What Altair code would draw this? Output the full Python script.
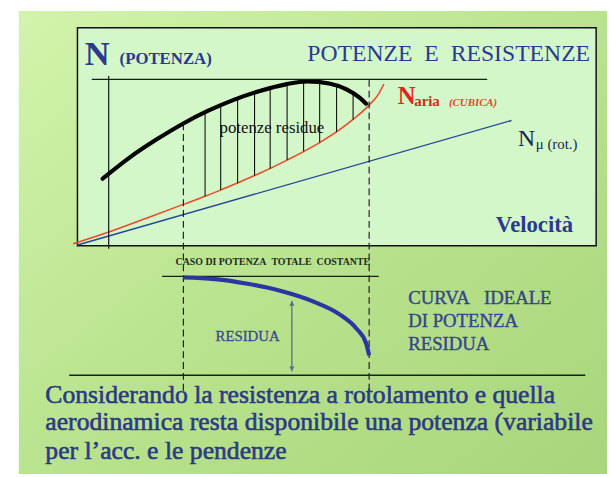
import altair as alt
import pandas as pd

SERIF = "Liberation Serif"
NB = "\u00a0"

# ---------- data (x: velocity units, y: power units) ----------
# available power curve (black)
BLACK_V = [5.8, 12.0, 18.0, 24.4, 30.0, 36.0, 42.0, 48.0, 53.0, 58.0, 62.0, 65.0, 66.5]
BLACK_P = [40.3, 53.0, 63.5, 73.5, 81.0, 87.7, 93.0, 97.0, 98.8, 97.5, 94.0, 89.0, 85.4]
# aerodynamic power (red, cubic)
RED_V = [-1.0, 7.2, 16.5, 24.4, 29.4, 33.1, 36.9, 41.5, 48.3, 55.8, 60.0, 63.5, 67.2, 69.4, 70.6]
RED_P = [1.2, 8.3, 17.2, 24.9, 29.8, 33.6, 37.8, 43.0, 51.5, 62.0, 69.0, 75.9, 84.5, 91.3, 97.2]
# rolling resistance power (blue, linear)
BLUE_V = [0.0, 100.0]
BLUE_P = [0.5, 75.3]
# hatch lines (residual power)
HATCH_V = [29.4, 33.0, 36.9, 40.8, 44.4, 48.3, 52.1, 55.8, 59.7, 63.5]
HATCH_TOP = [80.2, 84.5, 88.5, 92.1, 94.6, 97.1, 98.6, 98.3, 96.0, 91.5]
HATCH_BOT = [29.8, 33.5, 37.8, 42.2, 46.3, 51.5, 56.8, 62.0, 68.5, 75.9]
# dashed verticals
DASH_V = [24.4, 67.2]
DASH_TOP = [73.5, 101.0]
DASH_BOT = [-87.0, -87.0]
# ideal residual power curve (lower panel)
RESID_V = [24.4, 31.7, 39.2, 46.7, 54.4, 60.3, 64.2, 66.5, 67.2]
RESID_P = [-19.0, -20.0, -22.8, -27.0, -33.5, -41.0, -49.5, -58.5, -65.8]
# horizontal reference lines: start, end, level
HLINE_V1 = [3.3, 19.5, -1.9]
HLINE_V2 = [94.4, 69.4, 117.0]
HLINE_P = [100.0, -18.4, -77.7]
HLINE_W = [1.2, 1.2, 1.6]
# solid vertical line (axis N)
VLINE_V = [7.2]
VLINE_P1 = [-1.8]
VLINE_P2 = [102.0]
# double arrow "RESIDUA"
ARROW_V = [49.4]
ARROW_P1 = [-75.3]
ARROW_P2 = [-33.2]
# frame box
BOX_V = [0.0, 119.5]
BOX_P = [0.0, 131.0]
# slide background
BG_V = [-13.5, 125.0]
BG_P = [-140.0, 146.0]

X_DOMAIN = [-16, 122]
Y_DOMAIN = [-137, 141]

# texts: (v, p, text)
TITLE = [(118.1, 110.8, "POTENZE" + NB * 2 + "E" + NB * 2 + "RESISTENZE")]
N_BIG = [(1.7, 108.5, "N")]
N_SUB = [(9.7, 109.0, "(POTENZA)")]
NARIA_N = [(73.8, 85.4, "N")]
NARIA_SUB = [(77.6, 83.8, "aria")]
NARIA_CUB = [(85.6, 83.8, "(CUBICA)")]
NMU_N = [(101.5, 59.9, "N")]
NMU_SUB = [(105.6, 58.1, "μ (rot.)")]
VELOC = [(114.2, 8.3, "Velocità")]
RESIDUE = [(44.8, 67.6, "potenze residue")]
CASO = [(22.6, -11.3, "CASO DI POTENZA" + NB * 2 + "TOTALE" + NB * 2 + "COSTANTE")]
RESIDUA = [(39.2, -56.9, "RESIDUA")]
CURVA = [(76.2, -35.0, "CURVA" + NB * 3 + "IDEALE"), (76.2, -48.6, "DI POTENZA"), (76.2, -62.8, "RESIDUA")]
BOTTOM = [
    (-7.4, -94.2, "Considerando la resistenza a rotolamento e quella"),
    (-7.4, -110.8, "aerodinamica resta disponibile una potenza (variabile"),
    (-7.4, -128.0, "per l\u2019acc. e le pendenze"),
]

# ---------- chart ----------
X = alt.X("v:Q", scale=alt.Scale(domain=X_DOMAIN, nice=False, zero=False), axis=None)
Y = alt.Y("p:Q", scale=alt.Scale(domain=Y_DOMAIN, nice=False, zero=False), axis=None)


def pts(v, p):
    return pd.DataFrame({"v": v, "p": p, "i": list(range(len(v)))})


def line(v, p, **style):
    return alt.Chart(pts(v, p)).mark_line(**style).encode(x=X, y=Y, order="i:Q")


def texts(items, **style):
    df = pd.DataFrame(items, columns=["v", "p", "t"])
    base = dict(font=SERIF, baseline="alphabetic", align="left")
    base.update(style)
    return alt.Chart(df).mark_text(**base).encode(x=X, y=Y, text="t:N")


grad = alt.Gradient(
    gradient="linear",
    stops=[
        alt.GradientStop(color="#d2f4ab", offset=0),
        alt.GradientStop(color="#b9e38e", offset=0.5),
        alt.GradientStop(color="#a8d57a", offset=1),
    ],
    x1=0, x2=1, y1=0, y2=1,
)

bg = alt.Chart(pd.DataFrame({"v": [BG_V[0]], "v2": [BG_V[1]], "p": [BG_P[0]], "p2": [BG_P[1]]})).mark_rect(
    fill=grad, clip=True
).encode(x=X, x2="v2:Q", y=Y, y2="p2:Q")

box = alt.Chart(pd.DataFrame({"v": [BOX_V[0]], "v2": [BOX_V[1]], "p": [BOX_P[0]], "p2": [BOX_P[1]]})).mark_rect(
    fill="#d3f7c9", stroke="#111111", strokeWidth=1.5
).encode(x=X, x2="v2:Q", y=Y, y2="p2:Q")

blue = line(BLUE_V, BLUE_P, color="#26449c", strokeWidth=1.4)
red = line(RED_V, RED_P, color="#ec4a2c", strokeWidth=1.6, interpolate="monotone")

hatch = alt.Chart(pd.DataFrame({"v": HATCH_V, "p": HATCH_BOT, "p2": HATCH_TOP})).mark_rule(
    color="#111111", strokeWidth=1.1
).encode(x=X, y=Y, y2="p2:Q")

black = line(BLACK_V, BLACK_P, color="#000000", strokeWidth=4.2, interpolate="monotone", strokeCap="round")

dashed = alt.Chart(pd.DataFrame({"v": DASH_V, "p": DASH_BOT, "p2": DASH_TOP})).mark_rule(
    color="#111111", strokeWidth=1.1, strokeDash=[7, 4]
).encode(x=X, y=Y, y2="p2:Q")

hlines = alt.Chart(pd.DataFrame({"v": HLINE_V1, "v2": HLINE_V2, "p": HLINE_P, "w": HLINE_W})).mark_rule(
    color="#15221a"
).encode(x=X, x2="v2:Q", y=Y, strokeWidth=alt.StrokeWidth("w:Q", scale=None))

vline = alt.Chart(pd.DataFrame({"v": VLINE_V, "p": VLINE_P1, "p2": VLINE_P2})).mark_rule(
    color="#111111", strokeWidth=1.2
).encode(x=X, y=Y, y2="p2:Q")

resid = line(RESID_V, RESID_P, color="#2d35a3", strokeWidth=4.2, interpolate="monotone")

arrow = alt.Chart(pd.DataFrame({"v": ARROW_V, "p": ARROW_P1, "p2": ARROW_P2})).mark_rule(
    color="#5a6a90", strokeWidth=1.3
).encode(x=X, y=Y, y2="p2:Q")
arrow_up = alt.Chart(pd.DataFrame({"v": ARROW_V, "p": [ARROW_P2[0] - 1.5]})).mark_point(
    shape="triangle-up", filled=True, size=28, color="#5a6a90", opacity=1
).encode(x=X, y=Y)
arrow_dn = alt.Chart(pd.DataFrame({"v": ARROW_V, "p": [ARROW_P1[0] + 1.5]})).mark_point(
    shape="triangle-down", filled=True, size=28, color="#5a6a90", opacity=1
).encode(x=X, y=Y)

NAVY = "#2b3a8e"
BODY = "#2c3985"
layers = [
    bg, box, blue, red, hatch, black, dashed, hlines, vline, resid, arrow, arrow_up, arrow_dn,
    texts(TITLE, fontSize=24, color=NAVY, align="right"),
    texts(N_BIG, fontSize=35, fontWeight="bold", color=NAVY),
    texts(N_SUB, fontSize=17, fontWeight="bold", color=NAVY),
    texts(NARIA_N, fontSize=25, fontWeight="bold", color="#e0251b"),
    texts(NARIA_SUB, fontSize=15, fontWeight="bold", color="#d52a1c"),
    texts(NARIA_CUB, fontSize=11, fontWeight="bold", fontStyle="italic", color="#e8452a"),
    texts(NMU_N, fontSize=24, color="#1c2450"),
    texts(NMU_SUB, fontSize=15, color="#1c2450"),
    texts(VELOC, fontSize=23, fontWeight="bold", color=NAVY, align="right"),
    texts(RESIDUE, fontSize=17, color="#111111", align="center"),
    texts(CASO, fontSize=10, fontWeight="bold", color="#1f2a22"),
    texts(RESIDUA, fontSize=15, color="#3a4a8c", align="center", stroke="#3a4a8c", strokeWidth=0.3),
    texts(CURVA, fontSize=19, color="#34458c", stroke="#34458c", strokeWidth=0.4),
    texts(BOTTOM, fontSize=26, color=BODY, stroke=BODY, strokeWidth=0.6),
]

chart = alt.layer(*layers).properties(
    width=607,
    height=469,
    padding=0,
    autosize=alt.AutoSizeParams(type="none"),
    background="white",
).configure_view(strokeWidth=0)

chart.save("out.html", embed_options={"renderer": "svg", "actions": False})
